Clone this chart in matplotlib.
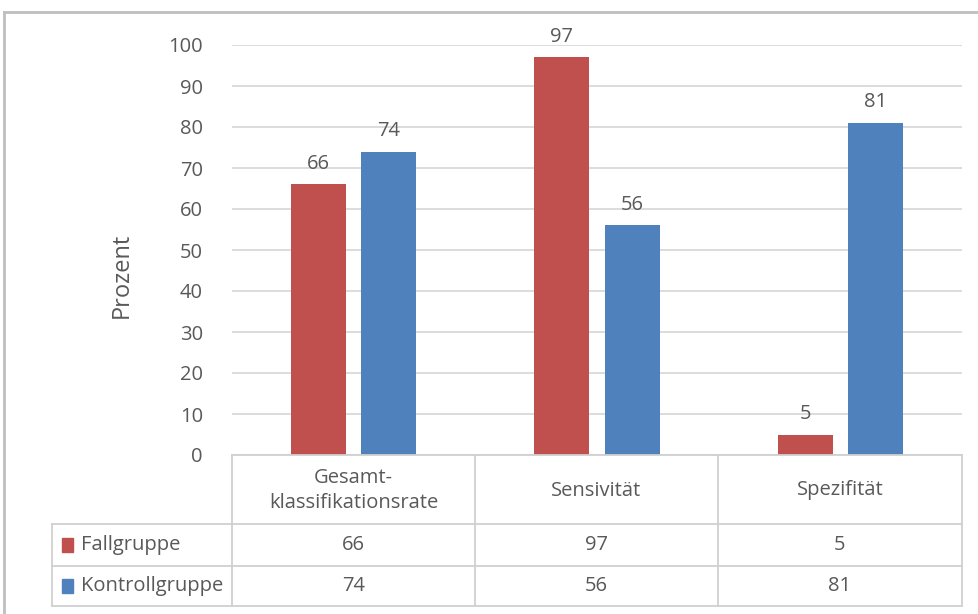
import matplotlib
matplotlib.use("Agg")
import matplotlib.pyplot as plt
from matplotlib.lines import Line2D
from matplotlib.patches import Rectangle

categories = ["Gesamt-\nklassifikationsrate", "Sensivität", "Spezifität"]
series_names = ["Fallgruppe", "Kontrollgruppe"]
fallgruppe = [66, 97, 5]
kontrollgruppe = [74, 56, 81]
yticks = [0, 10, 20, 30, 40, 50, 60, 70, 80, 90, 100]

colors = ["#C0504D", "#4F81BD"]
text_color = "#595959"
grid_color = "#D9D9D9"
font = ["Open Sans", "DejaVu Sans"]
fs = 14.5

W, H = 979, 614
fig = plt.figure(figsize=(W / 100, H / 100), dpi=100)
plt.rcParams["font.family"] = font


def fx(px):
    return px / W


def fy(py):
    return 1 - py / H


# plot area
left, right, top, bottom = 232, 962, 45, 455
ax = fig.add_axes([fx(left), fy(bottom), fx(right - left), fy(top) - fy(bottom)])
ax.set_xlim(-0.5, 2.5)
ax.set_ylim(0, 100)
for s in ax.spines.values():
    s.set_visible(False)
ax.set_xticks([])
ax.set_yticks(yticks)
ax.tick_params(axis="y", length=0, pad=21, labelsize=fs, labelcolor=text_color)
ax.yaxis.grid(True, color=grid_color, linewidth=1.3)
ax.set_axisbelow(True)

width = 0.226
offset = 0.144
xs = range(len(categories))
for vals, col, sign in [(fallgruppe, colors[0], -1), (kontrollgruppe, colors[1], 1)]:
    pos = [x + sign * offset for x in xs]
    bars = ax.bar(pos, vals, width=width, color=col, zorder=3)
    for b, v in zip(bars, vals):
        ax.text(b.get_x() + b.get_width() / 2, v + 2.6, f"{v}", ha="center", va="bottom",
                fontsize=fs, color=text_color)

fig.text(fx(122), fy(275), "Prozent", rotation=90, ha="center", va="center",
         fontsize=17, color=text_color)

# data table beneath the plot area
line_kw = dict(color="#D0D0D0", linewidth=1.3, transform=fig.transFigure)
col_edges = [232, 475, 718, 962]
row_edges = [455, 524, 566, 606]
tbl_left = 52


def hline(y, x0, x1):
    fig.add_artist(Line2D([fx(x0), fx(x1)], [fy(y), fy(y)], **line_kw))


def vline(x, y0, y1):
    fig.add_artist(Line2D([fx(x), fx(x)], [fy(y0), fy(y1)], **line_kw))


hline(row_edges[0], col_edges[0], col_edges[-1])
for y in row_edges[1:]:
    hline(y, tbl_left, col_edges[-1])
for x in col_edges:
    vline(x, row_edges[0], row_edges[-1])
vline(tbl_left, row_edges[1], row_edges[-1])

for i, cat in enumerate(categories):
    cx = (col_edges[i] + col_edges[i + 1]) / 2
    fig.text(fx(cx), fy((row_edges[0] + row_edges[1]) / 2 + 1), cat, ha="center",
             va="center", fontsize=fs, color=text_color, linespacing=1.3)

for r, (name, vals) in enumerate(zip(series_names, [fallgruppe, kontrollgruppe])):
    cy = (row_edges[r + 1] + row_edges[r + 2]) / 2
    fig.add_artist(Rectangle((fx(62), fy(cy + 7)), fx(11), fy(cy - 7) - fy(cy + 7),
                             color=colors[r], transform=fig.transFigure))
    fig.text(fx(81), fy(cy), name, ha="left", va="center", fontsize=fs, color=text_color)
    for i, v in enumerate(vals):
        cx = (col_edges[i] + col_edges[i + 1]) / 2
        fig.text(fx(cx), fy(cy), f"{v}", ha="center", va="center", fontsize=fs,
                 color=text_color)

# outer chart frame
frame_kw = dict(color="#BFBFBF", linewidth=2, transform=fig.transFigure)
fig.add_artist(Line2D([fx(4), fx(979)], [fy(12), fy(12)], **frame_kw))
fig.add_artist(Line2D([fx(4), fx(4)], [fy(12), fy(614)], **frame_kw))

fig.savefig("out.png", dpi=100)
